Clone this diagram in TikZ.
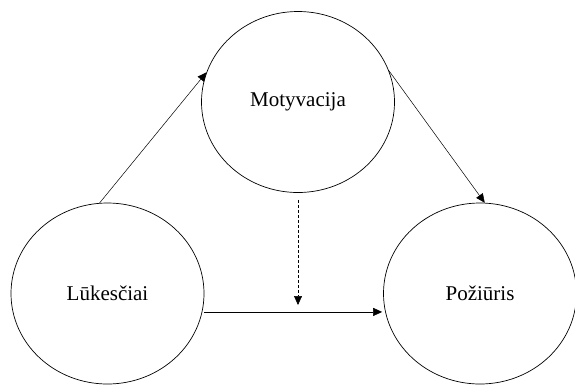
\documentclass[tikz,border=0pt]{standalone}
\usepackage{fontspec}
\setmainfont{Liberation Serif}
\usetikzlibrary{shapes.geometric,arrows.meta,calc}
\begin{document}
\begin{tikzpicture}[x=1pt,y=-1pt,
  concept/.style={draw, ellipse, line width=0.7pt, minimum width=193pt,
    minimum height=181pt, inner sep=0pt, font=\fontsize{21}{25}\selectfont},
  link/.style={line width=0.5pt, -{Triangle[length=9pt,width=8pt]}}]
  \useasboundingbox (0,0) rectangle (575,384);
  % the three concepts
  \node[concept] (mot) at (298,102) {Motyvacija};
  \node[concept] (luk) at (107.5,293.5) {Lūkesčiai};
  \node[concept] (poz) at (480,293.5) {Požiūris};
  % relations between them
  \draw[link] (luk.95) -- (mot.162);
  \draw[link] (mot.19) -- (poz.87);
  \draw[link] ([xshift=2pt]luk.-11) -- ($(luk.-11 -| poz.191)+(-3pt,0)$);
  \coordinate (dashend) at (298,305);
  \draw[link, dash pattern=on 3pt off 2pt] ([yshift=-7pt]mot.south) -- (dashend);
\end{tikzpicture}
\end{document}
